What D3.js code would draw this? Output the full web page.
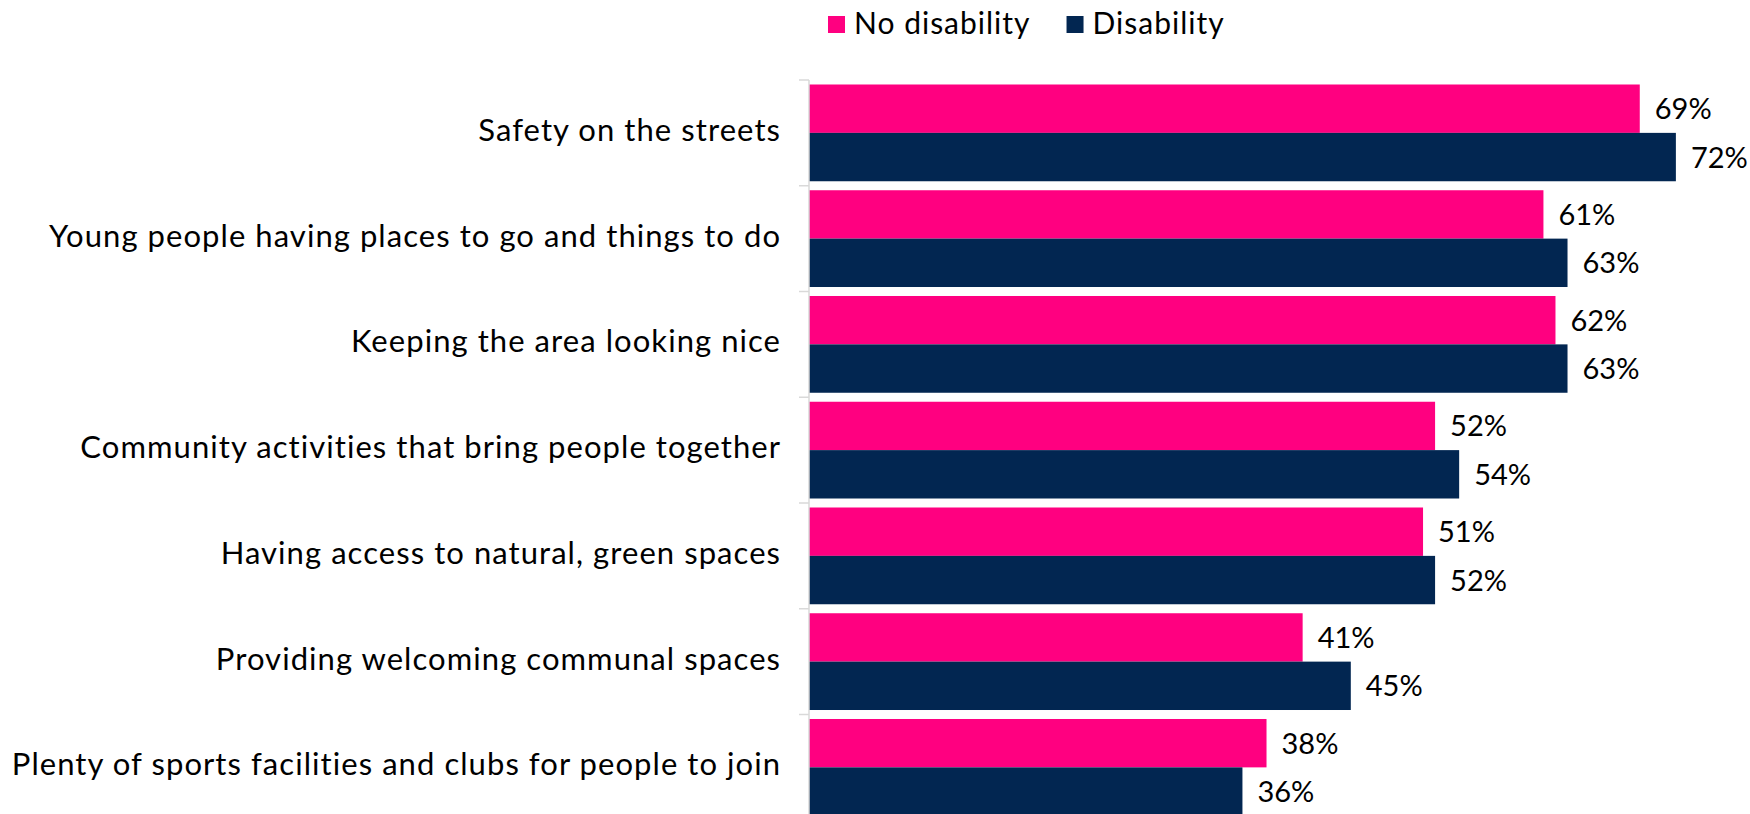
<!DOCTYPE html>
<html>
<head>
<meta charset="utf-8">
<script src="https://cdn.jsdelivr.net/npm/d3@7"></script>
<style>
  html, body { margin: 0; padding: 0; background: #fff; }
  svg { display: block; }
  text { font-family: Lato, "Open Sans", "Noto Sans", sans-serif; fill: #000; }
</style>
</head>
<body>
<svg id="chart" width="1750" height="814"></svg>
<script>
// Categories, top to bottom
const categories = [
  "Safety on the streets",
  "Young people having places to go and things to do",
  "Keeping the area looking nice",
  "Community activities that bring people together",
  "Having access to natural, green spaces",
  "Providing welcoming communal spaces",
  "Plenty of sports facilities and clubs for people to join"
];

// Series (percent)
const seriesNames = ["No disability", "Disability"];
const noDisability = [69, 61, 62, 52, 51, 41, 38];
const disability   = [72, 63, 63, 54, 52, 45, 36];
const seriesColors = ["#FF0080", "#022651"];

const svg = d3.select("#chart");
const W = 1750, H = 814;

const plotLeft = 809;    // value axis (0%)
const plotTop = 80;
const rowStep = 105.75;  // height of one category row

const y = d3.scaleBand()
  .domain(categories)
  .range([plotTop, plotTop + rowStep * categories.length])
  .paddingInner(0.085)
  .paddingOuter(0.0425);

const ySub = d3.scaleBand()
  .domain(seriesNames)
  .range([0, y.bandwidth()]);

const x = d3.scaleLinear()
  .domain([0, 78])
  .range([plotLeft, plotLeft + 78 * 12.04]);

const rows = categories.map((c, i) => ({
  category: c,
  values: [
    { series: seriesNames[0], value: noDisability[i], color: seriesColors[0] },
    { series: seriesNames[1], value: disability[i], color: seriesColors[1] }
  ]
}));

// Category groups
const g = svg.append("g");
const rowG = g.selectAll("g.row")
  .data(rows)
  .join("g")
  .attr("class", "row")
  .attr("transform", d => `translate(0,${y(d.category)})`);

rowG.selectAll("rect")
  .data(d => d.values)
  .join("rect")
  .attr("x", x(0))
  .attr("y", d => ySub(d.series))
  .attr("width", d => x(d.value) - x(0))
  .attr("height", ySub.bandwidth())
  .attr("fill", d => d.color);

// Value labels
rowG.selectAll("text.val")
  .data(d => d.values)
  .join("text")
  .attr("class", "val")
  .attr("x", d => x(d.value) + 15)
  .attr("y", d => ySub(d.series) + ySub.bandwidth() / 2 - 1)
  .attr("dominant-baseline", "central")
  .style("font-size", "29px")
  .text(d => d.value + "%");

// Category axis: light grey line with ticks at row boundaries
const axisG = svg.append("g");
axisG.append("line")
  .attr("x1", plotLeft).attr("x2", plotLeft)
  .attr("y1", plotTop).attr("y2", H)
  .attr("stroke", "#d9d9d9")
  .attr("stroke-width", 1.5);

const boundaries = d3.range(categories.length + 1).map(i => plotTop + i * rowStep);
axisG.selectAll("line.tick")
  .data(boundaries)
  .join("line")
  .attr("class", "tick")
  .attr("x1", plotLeft - 10).attr("x2", plotLeft)
  .attr("y1", d => d).attr("y2", d => d)
  .attr("stroke", "#d9d9d9")
  .attr("stroke-width", 1.5);

// Category labels, right-aligned next to the axis
const labelSize = 31;
const labels = axisG.selectAll("text.cat")
  .data(categories)
  .join("text")
  .attr("class", "cat")
  .attr("x", plotLeft - 29)
  .attr("y", d => y(d) + y.bandwidth() / 2 - 4)
  .attr("text-anchor", "end")
  .attr("dominant-baseline", "central")
  .style("font-size", labelSize + "px")
  .text(d => d);

// Open up the tracking so the longest label spans the left margin
const targetW = 770;
let widest = 0, widestLen = 1;
labels.each(function(d) {
  const w = this.getComputedTextLength();
  if (w > widest) { widest = w; widestLen = d.length; }
});
const spacing = Math.max(-1, Math.min(3, (targetW - widest) / widestLen));
labels.style("letter-spacing", spacing.toFixed(2) + "px")
  .attr("dx", spacing); // trailing space added after the last glyph

// Legend
const legend = svg.append("g").attr("transform", "translate(828,0)");
let lx = 0;
seriesNames.forEach((name, i) => {
  const item = legend.append("g").attr("transform", `translate(${lx},0)`);
  item.append("rect")
    .attr("x", 0).attr("y", 16)
    .attr("width", 17).attr("height", 17)
    .attr("fill", seriesColors[i]);
  const t = item.append("text")
    .attr("x", 26)
    .attr("y", 22)
    .attr("dominant-baseline", "central")
    .style("font-size", "30px")
    .style("letter-spacing", "1px")
    .text(name);
  lx += 26 + t.node().getComputedTextLength() + 36;
});
</script>
</body>
</html>
